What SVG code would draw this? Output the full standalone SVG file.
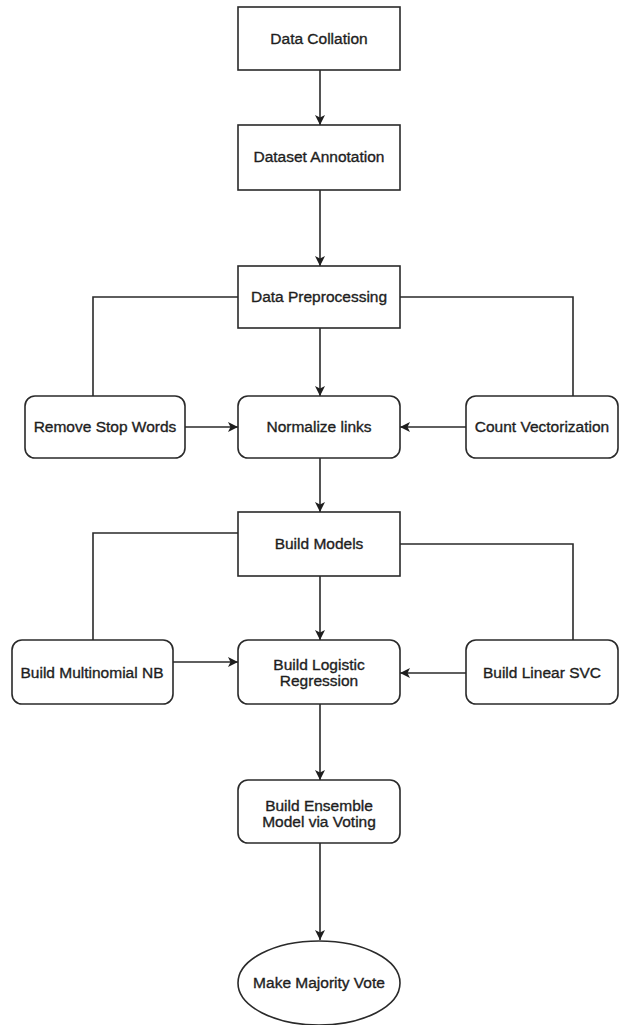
<svg xmlns="http://www.w3.org/2000/svg" width="620" height="1025" viewBox="0 0 620 1025">
<style>
.box{fill:#fff;stroke:#2a2a2a;stroke-width:1.6}
.lbl{font-family:"Liberation Sans",Arial,sans-serif;font-size:15.5px;fill:#1e1e1e;stroke:#1e1e1e;stroke-width:0.35;text-anchor:middle}
.ln{fill:none;stroke:#2a2a2a;stroke-width:1.6}
</style>
<defs>
<marker id="ah" viewBox="0 0 10 10" refX="10" refY="5" markerWidth="10" markerHeight="10" markerUnits="userSpaceOnUse" orient="auto">
<path d="M0,0 L10,5 L0,10 L2.5,5 Z" fill="#1e1e1e"/>
</marker>
</defs>
<rect width="620" height="1025" fill="#fff"/>
<g id="connectors">
<path class="ln" d="M320,70 V125" marker-end="url(#ah)"/>
<path class="ln" d="M320,190 V266" marker-end="url(#ah)"/>
<path class="ln" d="M238,297 H93 V396"/>
<path class="ln" d="M400,297 H573 V396"/>
<path class="ln" d="M320,328 V396" marker-end="url(#ah)"/>
<path class="ln" d="M185,427 H238" marker-end="url(#ah)"/>
<path class="ln" d="M466,427 H400" marker-end="url(#ah)"/>
<path class="ln" d="M320,458 V512" marker-end="url(#ah)"/>
<path class="ln" d="M238,533 H93 V640"/>
<path class="ln" d="M400,544 H573 V640"/>
<path class="ln" d="M320,576 V640" marker-end="url(#ah)"/>
<path class="ln" d="M173,662 H238" marker-end="url(#ah)"/>
<path class="ln" d="M466,673 H400" marker-end="url(#ah)"/>
<path class="ln" d="M320,704 V780" marker-end="url(#ah)"/>
<path class="ln" d="M320,843 V940" marker-end="url(#ah)"/>
</g>
<g id="n1"><rect class="box" x="238" y="7" width="162" height="63"/><text class="lbl" x="319" y="44">Data Collation</text></g>
<g id="n2"><rect class="box" x="238" y="125" width="162" height="65"/><text class="lbl" x="319" y="162">Dataset Annotation</text></g>
<g id="n3"><rect class="box" x="238" y="266" width="162" height="62"/><text class="lbl" x="319" y="302">Data Preprocessing</text></g>
<g id="n4"><rect class="box" x="25" y="396" width="160" height="62" rx="10"/><text class="lbl" x="105" y="432">Remove Stop Words</text></g>
<g id="n5"><rect class="box" x="238" y="396" width="162" height="62" rx="10"/><text class="lbl" x="319" y="432">Normalize links</text></g>
<g id="n6"><rect class="box" x="466" y="396" width="152" height="62" rx="10"/><text class="lbl" x="542" y="432">Count Vectorization</text></g>
<g id="n7"><rect class="box" x="238" y="512" width="162" height="64"/><text class="lbl" x="319" y="549">Build Models</text></g>
<g id="n8"><rect class="box" x="12" y="640" width="161" height="64" rx="10"/><text class="lbl" x="92" y="678">Build Multinomial NB</text></g>
<g id="n9"><rect class="box" x="238" y="640" width="162" height="64" rx="10"/><text class="lbl" x="319" y="670">Build Logistic</text><text class="lbl" x="319" y="686">Regression</text></g>
<g id="n10"><rect class="box" x="466" y="640" width="152" height="64" rx="10"/><text class="lbl" x="542" y="678">Build Linear SVC</text></g>
<g id="n11"><rect class="box" x="238" y="780" width="162" height="63" rx="10"/><text class="lbl" x="319" y="811">Build Ensemble</text><text class="lbl" x="319" y="827">Model via Voting</text></g>
<g id="n12"><ellipse class="box" cx="319" cy="983" rx="81" ry="42"/><text class="lbl" x="319" y="988">Make Majority Vote</text></g>
</svg>
